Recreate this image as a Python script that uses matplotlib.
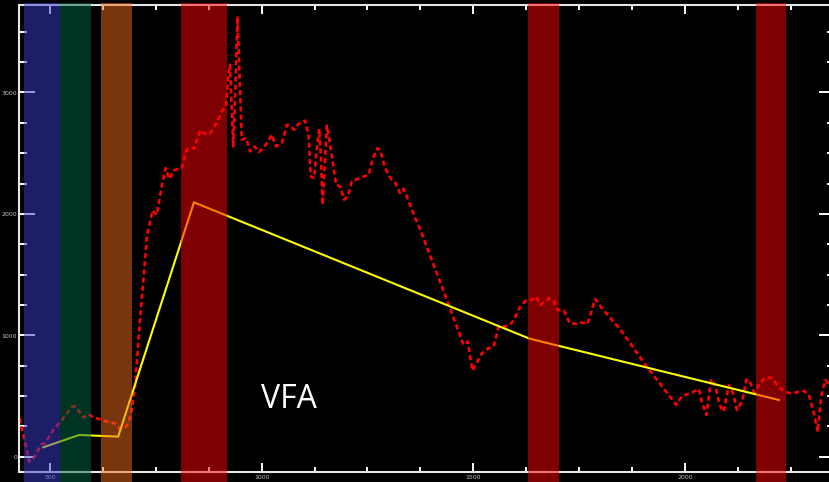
import matplotlib
matplotlib.use("Agg")
import matplotlib.pyplot as plt
from matplotlib.patches import Rectangle
from matplotlib.ticker import MultipleLocator

# Measured trace (dashed red)
trace_x = [428, 451, 460, 480, 488, 508, 528, 551, 561, 579, 591, 602, 618, 642, 654,
           665, 677, 685, 693, 701, 713, 720, 729, 742, 752, 764, 773, 782, 792, 811,
           823, 831, 840, 855, 866, 878, 894, 906, 916, 921, 925, 933, 937, 943, 947,
           953, 963, 973, 983, 994, 1010, 1024, 1034, 1048, 1060, 1067, 1077, 1087,
           1103, 1111, 1116, 1124, 1130, 1136, 1140, 1144, 1148, 1154, 1160, 1166,
           1176, 1186, 1195, 1205, 1213, 1223, 1237, 1253, 1263, 1274, 1282, 1292,
           1304, 1316, 1327, 1335, 1343, 1363, 1375, 1442, 1477, 1487, 1498, 1521,
           1536, 1548, 1560, 1572, 1584, 1595, 1611, 1625, 1639, 1649, 1658, 1670,
           1680, 1690, 1699, 1714, 1728, 1741, 1757, 1770, 1788, 1804, 1848, 1911,
           1980, 1993, 2013, 2033, 2041, 2051, 2062, 2072, 2082, 2092, 2104, 2114,
           2123, 2135, 2145, 2152, 2164, 2177, 2193, 2206, 2218, 2230, 2246, 2261,
           2281, 2293, 2305, 2314, 2322, 2332, 2342]
trace_y = [316, -41, -21, 105, 110, 220, 302, 412, 412, 322, 350, 325, 308, 280, 275,
           228, 239, 275, 385, 577, 1154, 1429, 1814, 2028, 1993, 2226, 2377, 2287,
           2358, 2377, 2528, 2542, 2537, 2688, 2658, 2658, 2754, 2844, 2885, 3133,
           3229, 2556, 2941, 3627, 3215, 2611, 2625, 2514, 2556, 2509, 2570, 2652,
           2556, 2584, 2734, 2726, 2693, 2740, 2768, 2638, 2308, 2295, 2528, 2699,
           2473, 2075, 2336, 2726, 2611, 2473, 2240, 2226, 2116, 2157, 2267, 2281,
           2303, 2322, 2460, 2542, 2501, 2377, 2295, 2254, 2171, 2207, 2143, 1965,
           1869, 1251, 921, 948, 709, 852, 893, 907, 1072, 1072, 1077, 1121, 1237,
           1286, 1292, 1319, 1251, 1278, 1306, 1278, 1209, 1204, 1100, 1094, 1105,
           1094, 1298, 1223, 1045, 737, 426, 500, 523, 556, 440, 344, 638, 583, 426,
           371, 591, 523, 385, 453, 632, 632, 528, 605, 655, 646, 591, 550, 523, 528,
           542, 509, 358, 206, 495, 632, 591]

# Sampled values (solid yellow)
sample_x = [484, 569, 661, 840, 1633, 2222]
sample_y = [77, 179, 165, 2095, 972, 467]

# Shaded intervals: (start, end, colour)
band_start = [438, 524, 621, 810, 1630, 2167]
band_end = [524, 597, 694, 918, 1703, 2240]
band_color = ["#3a3ad0", "#006646", "#f26c1a", "#ff0000", "#ff0000", "#ff0000"]

x_ticks = [500, 1000, 1500, 2000]
y_ticks = [0, 1000, 2000, 3000]
label = "VFA"

W, H = 829, 482
fig = plt.figure(figsize=((W + 0.4) / 100, (H + 0.4) / 100), dpi=100, facecolor="black")
ax = fig.add_axes([19.3 / W, 9.7 / H, 815 / W, 467 / H], facecolor="black")

ax.plot(trace_x, trace_y, color="#ff0000", lw=1.9, linestyle=(0, (1.9, 1.2)), zorder=2)
ax.plot(sample_x, sample_y, color="#ffff00", lw=1.5, zorder=2)

for x0, x1, c in zip(band_start, band_end, band_color):
    ax.add_patch(Rectangle((x0, -0.03), x1 - x0, 1.0345, transform=ax.get_xaxis_transform(),
                           facecolor=c, edgecolor="none", alpha=0.5, zorder=5, clip_on=False))

ax.text(999, 407, label, color="white", fontsize=23, family=["Open Sans", "DejaVu Sans"],
        ha="left", va="baseline")

ax.set_xlim(427.4, 2354)
ax.set_ylim(-128.6, 3721)

ax.set_xticks(x_ticks)
ax.set_yticks(y_ticks)
ax.xaxis.set_minor_locator(MultipleLocator(125))
ax.yaxis.set_minor_locator(MultipleLocator(250))

for s in ax.spines.values():
    s.set_color("#e6e6e6")
    s.set_linewidth(1.5)

ax.tick_params(axis="both", which="both", direction="in", colors="white", width=1.4,
               labelcolor="#c4c4c4", labelsize=4.5, top=True, right=True)
ax.tick_params(axis="x", which="major", length=6.5, pad=2)
ax.tick_params(axis="x", which="minor", length=3.6)
ax.tick_params(axis="y", which="major", length=11.5, pad=1.5)
ax.tick_params(axis="y", which="minor", length=5.8)

fig.savefig("out.png", dpi=100, facecolor="black")
